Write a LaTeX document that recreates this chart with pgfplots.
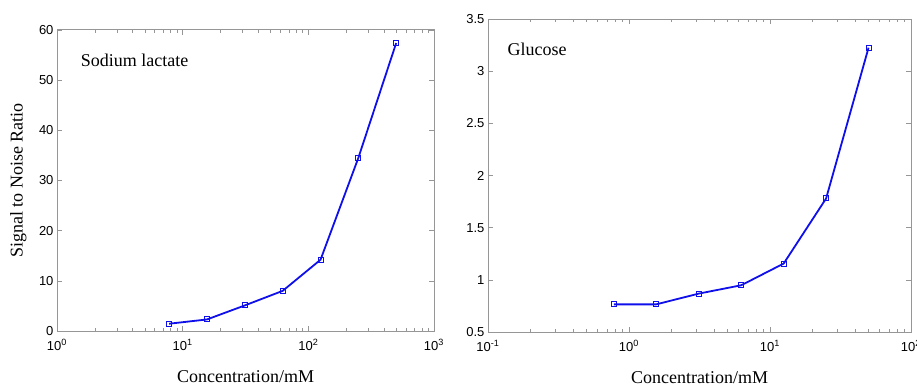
\documentclass[border=0pt]{standalone}
\usepackage{fontspec}
\setmainfont{Liberation Serif}
\newfontfamily\arialf{Liberation Sans}
\usepackage{pgfplots}
\pgfplotsset{compat=1.18}
\definecolor{lineblue}{RGB}{15,15,235}
\definecolor{axgray}{RGB}{150,150,150}
\pgfplotsset{
  myax/.style={
    scale only axis, anchor=south west,
    axis line style={axgray, line width=1pt},
    tick style={axgray, line width=0.6pt},
    major tick length=5pt, minor tick length=3pt,
    tick align=inside,
    xtick pos=both, ytick pos=both,
    ticklabel style={font=\arialf\fontsize{13}{13}\selectfont, black},
    xticklabel style={yshift=-5pt},
    /pgf/number format/assume math mode=true,
    xlabel style={font=\fontsize{18}{18}\selectfont},
    ylabel style={font=\fontsize{18}{18}\selectfont},
  }
}
\begin{document}
\begin{tikzpicture}
\useasboundingbox (0,0) rectangle (917pt,388pt);
\begin{semilogxaxis}[myax, at={(57pt,57pt)}, width=377pt, height=301pt,
  xmin=1, xmax=1000, ymin=0, ymax=60,
  xtick={1,10,100,1000},
  xticklabels={10\textsuperscript{0},10\textsuperscript{1},10\textsuperscript{2},10\textsuperscript{3}},
  ytick={0,10,20,30,40,50,60},
  xlabel={Concentration/mM},
  ylabel={Signal to Noise Ratio},
  xlabel style={at={(axis description cs:0.5,0)}, anchor=north, yshift=-36pt},
  ylabel style={at={(axis description cs:0,0.5)}, anchor=south, yshift=27pt},
]
\addplot[lineblue, line width=1.8pt, mark=square, mark size=2.5pt, mark options={line width=1pt}]
coordinates {(7.8,1.45) (15.6,2.3) (31.25,5.1) (62.5,8.0) (125,14.2) (250,34.5) (500,57.4)};
\node[anchor=west, font=\fontsize{18}{18}\selectfont] at (axis cs:1.45,54) {Sodium lactate};
\end{semilogxaxis}
\begin{semilogxaxis}[myax, at={(488pt,56pt)}, width=423pt, height=313pt,
  xmin=0.1, xmax=100, ymin=0.5, ymax=3.5,
  xtick={0.1,1,10,100},
  xticklabels={10\textsuperscript{-1},10\textsuperscript{0},10\textsuperscript{1},10\textsuperscript{2}},
  ytick={0.5,1,1.5,2,2.5,3,3.5},
  yticklabels={0.5,1,1.5,2,2.5,3,3.5},
  xlabel={Concentration/mM},
  xlabel style={at={(axis description cs:0.5,0)}, anchor=north, yshift=-36pt},
]
\addplot[lineblue, line width=1.8pt, mark=square, mark size=2.5pt, mark options={line width=1pt}]
coordinates {(0.78,0.765) (1.56,0.765) (3.125,0.868) (6.25,0.948) (12.5,1.156) (25,1.78) (50,3.225)};
\node[anchor=west, font=\fontsize{18}{18}\selectfont] at (axis cs:0.13,3.21) {Glucose};
\end{semilogxaxis}
\end{tikzpicture}
\end{document}
